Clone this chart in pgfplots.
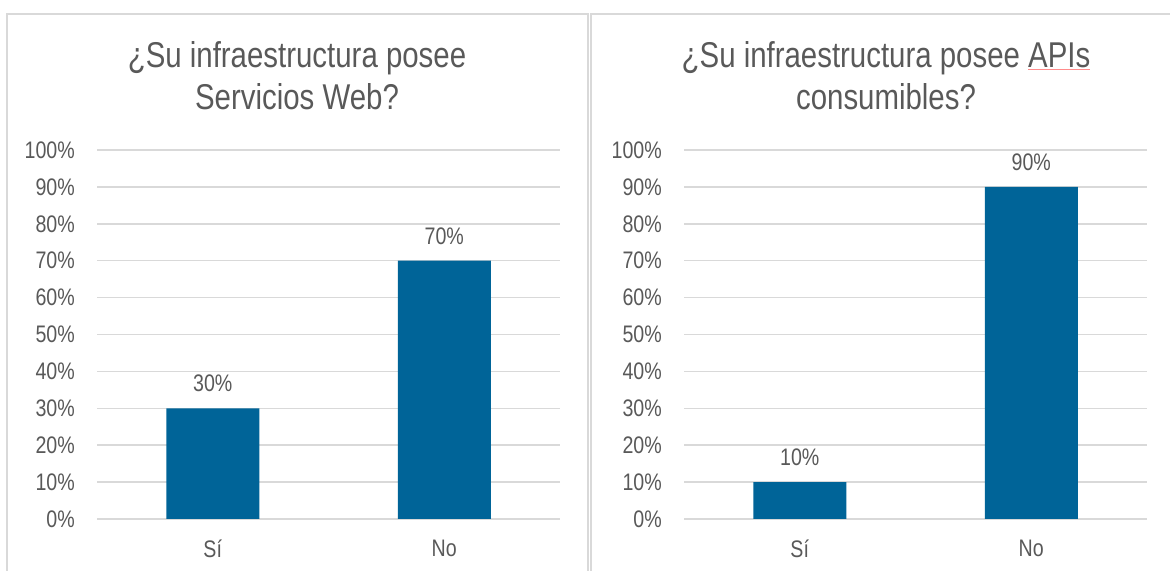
\documentclass[border=0pt]{standalone}
\usepackage{pgfplots}
\pgfplotsset{compat=1.18}
\usepackage{fontspec}
\setmainfont{Liberation Sans}[FakeStretch=0.82]
\definecolor{bargc}{RGB}{0,100,152}
\definecolor{txtc}{RGB}{89,89,89}
\definecolor{gridc}{RGB}{217,217,217}
\definecolor{borderc}{RGB}{217,217,217}
\pgfplotsset{
  panel/.style={
    scale only axis, width=463bp, height=369bp,
    anchor=south west,
    xmin=-0.5, xmax=1.5, ymin=0, ymax=100,
    ybar, bar width=93bp,
    axis line style={draw=none},
    major tick length=0pt,
    ytick={0,10,...,100},
    yticklabel={\pgfmathprintnumber[assume math mode=true]{\tick}\%},
    xtick={0,1}, xticklabels={Sí,No},
    ymajorgrids, grid style={gridc, line width=1.5bp},
    tick label style={font=\fontsize{24}{28}\selectfont, text=txtc, inner sep=0pt},
    yticklabel style={xshift=-22bp},
    xticklabel style={yshift=-21bp},
    nodes near coords={\pgfmathprintnumber[assume math mode=true]{\pgfplotspointmeta}\%},
    every node near coord/.append style={font=\fontsize{24}{28}\selectfont, text=txtc, inner sep=0pt, yshift=16bp},
    clip=false,
  }
}
\begin{document}
\begin{tikzpicture}[x=1bp,y=1bp]
\path[use as bounding box] (0bp,0bp) rectangle (1170bp,571bp);
\draw[borderc, line width=1.5bp] (7bp,-5bp) -- (7bp,557bp) -- (588bp,557bp) -- (588bp,-5bp);
\draw[borderc, line width=2bp] (591bp,-5bp) -- (591bp,557bp) -- (1175bp,557bp);
\node[align=center, text=txtc, font=\fontsize{36}{42}\selectfont] at (297bp,495bp) {¿Su infraestructura posee\\Servicios Web?};
\node[align=center, text=txtc, font=\fontsize{36}{42}\selectfont] at (886bp,495bp) {¿Su infraestructura posee {\color{red!45}\underline{\textcolor{txtc}{APIs}}}\\consumibles?};
\begin{axis}[panel, at={(684bp,52bp)}]
\addplot[fill=bargc, draw=none] coordinates {(0,10) (1,90)};
\end{axis}
\begin{axis}[panel, at={(97bp,52bp)}]
\addplot[fill=bargc, draw=none] coordinates {(0,30) (1,70)};
\end{axis}
\end{tikzpicture}
\end{document}
